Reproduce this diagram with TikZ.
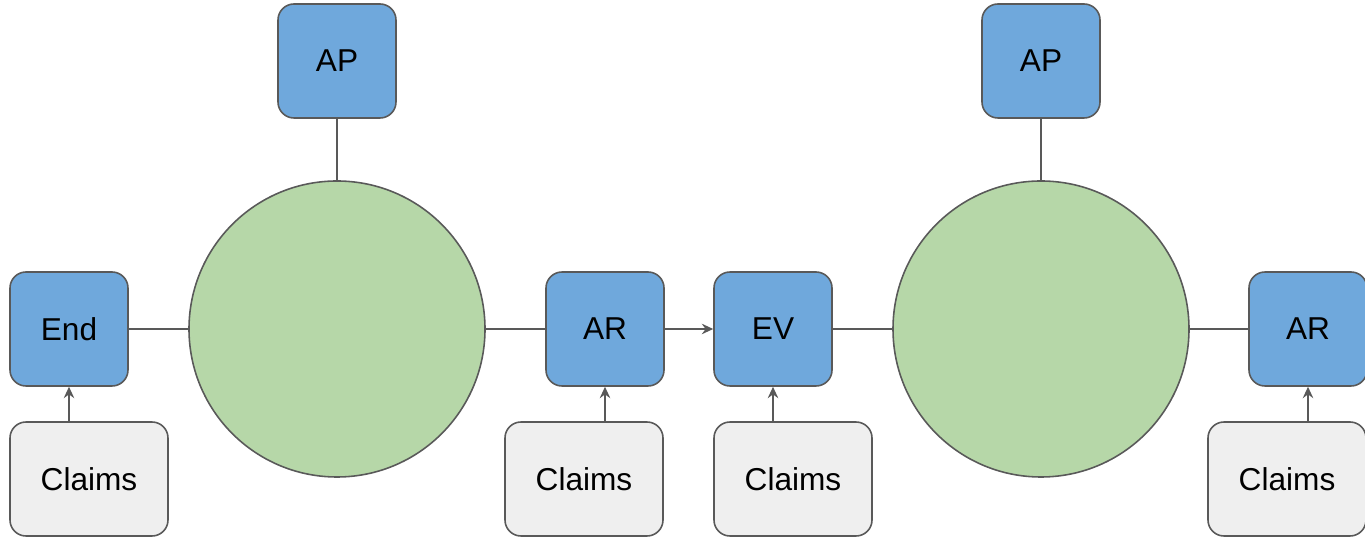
\documentclass[tikz,border=0pt]{standalone}
\usepackage{fontspec}
\setmainfont{Liberation Sans}
\usetikzlibrary{shapes,arrows,arrows.meta,positioning}
\definecolor{boxblue}{HTML}{6FA8DC}
\definecolor{hubgreen}{HTML}{B6D7A8}
\definecolor{claimgray}{HTML}{EFEFEF}
\definecolor{edgegray}{HTML}{595959}
\tikzset{
	line/.style={draw=edgegray, line width=0.85pt},
	arr/.style={line, -{Stealth[length=6.5pt, width=6pt, inset=2.2pt]}},
	txt/.style={font={\fontsize{18}{22}\selectfont}}
}
\tikzstyle{base} =
	[
		draw=edgegray,
		line width=0.9pt,
		align=center,
		txt
	]
\tikzstyle{role} =
	[
		base,
		rounded corners=0.32cm,
		fill=boxblue,
		minimum width=2.36cm,
		minimum height=2.28cm
	]
\tikzstyle{claim} =
	[
		base,
		rounded corners=0.32cm,
		fill=claimgray,
		minimum width=3.16cm,
		minimum height=2.28cm
	]
\tikzstyle{hub} =
	[
		base,
		circle,
		fill=hubgreen,
		inner sep=0pt,
		minimum size=5.92cm
	]
\begin{document}
\begin{tikzpicture}[node distance=5.36cm, on grid]
        \useasboundingbox (0,0) rectangle (27.3,-10.78);
        % main row
        \node[role] (end) at (1.38,-6.58) {End};
        \node[hub] (hub1) [right=of end] {};
        \node[role] (ar1) [right=of hub1] {AR};
        \node[role] (ev) [right=3.36cm of ar1] {EV};
        \node[hub] (hub2) [right=of ev] {};
        \node[role] (ar2) [right=5.34cm of hub2] {AR};
        % top boxes
        \node[role] (ap1) [above=of hub1] {AP};
        \node[role] (ap2) [above=of hub2] {AP};
        % claims below
        \node[claim] (cl1) [below right=3cm and 0.4cm of end] {Claims};
        \node[claim] (cl2) [below left=3cm and 0.42cm of ar1] {Claims};
        \node[claim] (cl3) [below right=3cm and 0.4cm of ev] {Claims};
        \node[claim] (cl4) [below left=3cm and 0.42cm of ar2] {Claims};
        % links
        \path[line] (end) -- (hub1);
        \path[line] (hub1) -- (ar1);
        \path[arr] (ar1) -- (ev);
        \path[line] (ev) -- (hub2);
        \path[line] (hub2) -- (ar2);
        \path[line] (ap1) -- (hub1);
        \path[line] (ap2) -- (hub2);
        \path[arr] (cl1.north -| end.south) -- (end.south);
        \path[arr] (cl2.north -| ar1.south) -- (ar1.south);
        \path[arr] (cl3.north -| ev.south) -- (ev.south);
        \path[arr] (cl4.north -| ar2.south) -- (ar2.south);
\end{tikzpicture}
\end{document}
